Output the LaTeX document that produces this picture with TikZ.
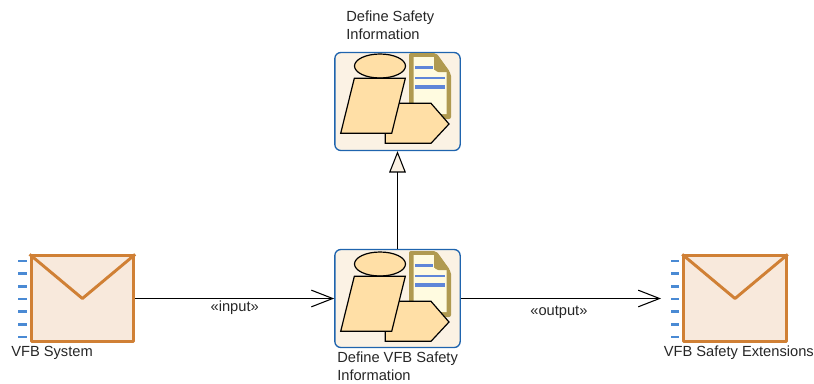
\documentclass[tikz,border=0pt]{standalone}
\usepackage{fontspec}
\setmainfont{Liberation Sans}
\usetikzlibrary{arrows.meta}
\definecolor{taskfill}{HTML}{FBF2E4}
\definecolor{taskline}{HTML}{1F64AE}
\definecolor{iconfill}{HTML}{FFDFA6}
\definecolor{docline}{HTML}{B09A50}
\definecolor{docfill}{HTML}{FFFBE0}
\definecolor{doctext}{HTML}{5F86D8}
\definecolor{envfill}{HTML}{F8E9DC}
\definecolor{envline}{HTML}{D08035}
\definecolor{portline}{HTML}{4A8AD4}
\tikzset{
  taskbox/.style={draw=taskline,fill=taskfill,line width=1pt,rounded corners=4.5pt,minimum width=94pt,minimum height=73.5pt,inner sep=0pt},
  envbox/.style={draw=envline,fill=envfill,line width=2.2pt,line join=round,minimum width=77pt,minimum height=64pt,inner sep=0pt},
  labeltext/.style={font=\fontsize{11}{13.5}\selectfont,text=black!85,align=left,inner sep=0pt},
  flow/.style={draw=black,line width=0.8pt,-{Straight Barb[length=16pt,width=12.5pt,line width=0.8pt]}},
  stereo/.style={font=\fontsize{11}{12}\selectfont,text=black!85,inner sep=0pt},
  generalize/.style={draw=black,line width=0.8pt,-{Triangle[open,length=16pt,width=12.5pt,fill=taskfill,line width=0.8pt]}},
}
\begin{document}
\begin{tikzpicture}[x=0.75pt,y=-0.75pt]
  \useasboundingbox (0,0) rectangle (814,383);
  % tasks
  \node[taskbox] (safetytask) at (397.5,101.5) {};
  \node[taskbox] (vfbtask) at (397.5,298.5) {};
  \foreach \shifty in {0,198} {
    \begin{scope}[yshift=-\shifty*0.75pt]
      \fill[docline,rounded corners=1.5pt] (409,53) -- (436,53) -- (451,74) -- (451,119) -- (409,119) -- cycle;
      \fill[docfill] (413.5,57) -- (434,57) -- (434,70) -- (446.5,72) -- (446.5,114) -- (413.5,114) -- cycle;
      \fill[docline,rounded corners=1pt] (434,54) -- (437,54) -- (450,72) -- (437,72) -- (434,69) -- cycle;
      \draw[doctext,line width=2pt] (415,67.7) -- (433,67.7);
      \draw[doctext,line width=1.8pt] (415,77.7) -- (445,77.7);
      \draw[doctext,line width=3pt] (415,87) -- (445,87);
      \draw[fill=iconfill,line width=0.9pt] (380,66) ellipse (25.5 and 12);
      \draw[fill=iconfill,line width=0.9pt] (385.3,103.3) -- (431,103.3) -- (449,124) -- (431,143.3) -- (385.3,143.3) -- cycle;
      \draw[fill=iconfill,line width=0.9pt] (354.3,78.3) -- (405.3,78.3) -- (391.7,133.3) -- (340.7,133.3) -- cycle;
    \end{scope}
  }
  % envelopes
  \node[envbox] (system) at (82.4,298.5) {};
  \node[envbox] (extensions) at (735,298.5) {};
  \draw[envline,line width=2.2pt,line join=round] (system.north west) -- (system.center) -- (system.north east);
  \draw[envline,line width=2.2pt,line join=round] (extensions.north west) -- (extensions.center) -- (extensions.north east);
  \foreach \porty in {261,273.7,286.3,299,311.7,324.3,337} {
    \draw[portline,line width=2pt] (18.3,\porty) -- (26.7,\porty);
    \draw[portline,line width=2pt] (671,\porty) -- (679.3,\porty);
  }
  % labels
  \node[labeltext,anchor=north west] (safetylabel) at (346,10.5) {Define Safety\\Information};
  \node[labeltext,anchor=north west] (vfblabel) at (337,352) {Define VFB Safety\\Information};
  \node[labeltext,anchor=west] (systemlabel) at (11,353) {VFB System};
  \node[labeltext,anchor=west] (extensionslabel) at (663.5,353) {VFB Safety Extensions};
  % connectors
  \coordinate (extensionsport) at (661,298.5);
  \draw[flow] (system.east) -- node[stereo,pos=0.5,yshift=-7pt] (inputlabel) {«input»} (vfbtask.west);
  \draw[flow] (vfbtask.east) -- node[stereo,pos=0.49,yshift=-10pt] (outputlabel) {«output»} (extensionsport);
  \draw[generalize] (vfbtask.north) -- (safetytask.south);
\end{tikzpicture}
\end{document}
